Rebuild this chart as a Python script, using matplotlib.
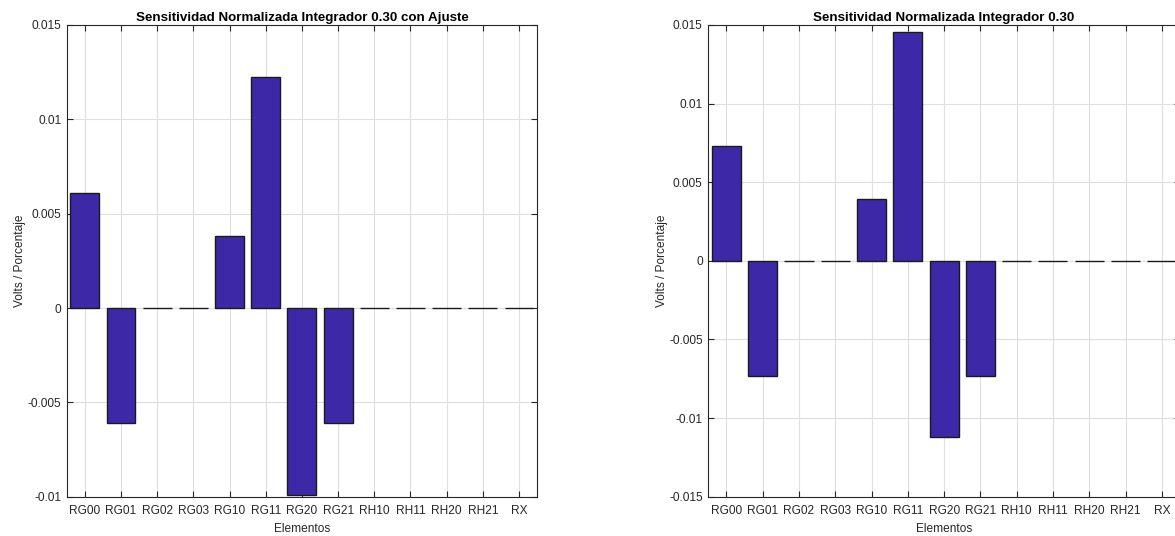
import matplotlib.pyplot as plt
import numpy as np

plt.rcParams['font.family'] = ['Liberation Sans', 'DejaVu Sans']

elementos = ['RG00', 'RG01', 'RG02', 'RG03', 'RG10', 'RG11', 'RG20',
             'RG21', 'RH10', 'RH11', 'RH20', 'RH21', 'RX']

# sensibilidad normalizada (V / %)
sens_ajuste = [0.00612, -0.0061, 0.0, 0.0, 0.0038, 0.01222, -0.0099,
               -0.0061, 0.0, 0.0, 0.0, 0.0, -0.00001]
sens = [0.0073, -0.0073, 0.0, 0.0, 0.00394, 0.01455, -0.01122,
        -0.0073, 0.0, 0.0, 0.0, 0.0, -0.00001]

titulos = ['Sensitividad Normalizada Integrador 0.30 con Ajuste',
           'Sensitividad Normalizada Integrador 0.30']
ylims = [(-0.01, 0.015), (-0.015, 0.015)]
yticks = [[-0.01, -0.005, 0, 0.005, 0.01, 0.015],
          [-0.015, -0.01, -0.005, 0, 0.005, 0.01, 0.015]]
yticklabels = [['-0.01', '-0.005', '0', '0.005', '0.01', '0.015'],
               ['-0.015', '-0.01', '-0.005', '0', '0.005', '0.01', '0.015']]

color_barra = '#3d28a8'
gris = '#262626'

fig = plt.figure(figsize=(11.75, 5.36), dpi=100)
ax1 = fig.add_axes([0.0568, 0.0733, 0.4003, 0.8801])
ax2 = fig.add_axes([0.6028, 0.0733, 0.4014, 0.8801])

x = np.arange(1, len(elementos) + 1)
for ax, datos, tit, yl, yt, ytl in zip([ax1, ax2], [sens_ajuste, sens], titulos,
                                        ylims, yticks, yticklabels):
    ax.bar(x, datos, width=0.8, color=color_barra, edgecolor='#1a1a1a',
           linewidth=1.0, zorder=3)
    ax.set_xlim(0.5, len(elementos) + 0.5)
    ax.set_ylim(*yl)
    ax.set_xticks(x)
    ax.set_xticklabels(elementos)
    ax.set_yticks(yt)
    ax.set_yticklabels(ytl)
    ax.grid(True, color='#dfdfdf', linewidth=0.8, zorder=0)
    ax.set_axisbelow(True)
    ax.tick_params(direction='in', length=4, width=0.8, colors=gris,
                   labelsize=8.6, top=True, right=True)
    ax.tick_params(axis='x', pad=6)
    ax.tick_params(axis='y', pad=4)
    for s in ax.spines.values():
        s.set_color(gris)
        s.set_linewidth(0.8)
    ax.set_title(tit, fontsize=9.6, fontweight='bold', color='black', pad=3)
    ax.set_xlabel('Elementos', fontsize=8.6, color=gris, labelpad=4)
    ax.set_ylabel('Volts / Porcentaje', fontsize=8.6, color=gris, labelpad=1)

fig.savefig('out.png', dpi=100)
